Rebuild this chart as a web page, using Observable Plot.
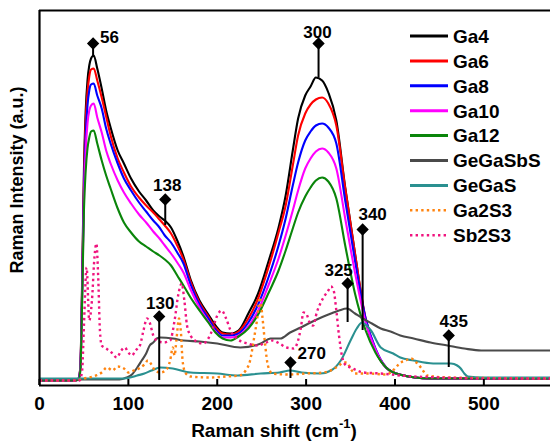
<!DOCTYPE html>
<html><head><meta charset="utf-8">
<script src="https://cdn.jsdelivr.net/npm/d3@7"></script>
<script src="https://cdn.jsdelivr.net/npm/@observablehq/plot@0.6"></script>
<style>
body{margin:0;background:#fff;}
#chart{position:relative;width:550px;height:441px;overflow:hidden;background:#fff}
#chart svg text{font-family:"Liberation Sans",Arial,sans-serif;}
</style>
</head><body><div id="chart"></div>
<script>
// ---- data (Raman shift in cm-1, intensity in arbitrary units) ----
const gaX = [0,40,44,46,48,50,52,54,56,58,61,65,70,75,80,88,95,103,112,120,128,135,141,148,155,162,170,180,190,198,206,215,224,235,246,258,269,277,285,291,299,305,311,318,325,334,344,355,367,378,390,405,440,480,575];
const ga4  = [5,5,7,20,105,215,275,305,320,327,330,317,297,275,258,235,222,207,194,185,175,169,165,158,145,129,106,85,71,60,53,52,55,72,92,125,158,190,235,267,290,299,308,305,293,265,198,132,65,35,18,11,7,7,7];
const ga6  = [5,5,7,19,100,205,265,293,309,316,317,305,288,269,250,227,213,199,188,180,173,166,160,152,140,126,104,83,69,58,52,51,54,67,87,119,153,180,220,250,272,281,286,288,282,260,197,132,67,36,18,11,7,7,7];
const ga8  = [5,5,7,18,95,195,250,280,295,301,302,290,277,257,242,222,207,195,183,174,165,158,150,143,133,122,101,81,67,56,50,50,52,63,81,109,140,167,200,223,245,254,260,262,258,242,185,125,67,37,18,11,7,7,7];
const ga10 = [5,5,6,17,90,185,235,262,275,280,282,268,253,235,222,205,193,182,171,163,154,147,140,132,123,113,96,78,64,54,48,48,50,59,75,101,127,150,175,195,217,227,234,237,233,217,167,113,63,36,18,11,7,7,7];
const ga12 = [5,5,6,15,85,175,215,237,248,254,255,242,225,210,197,177,163,153,144,139,134,130,126,120,110,100,88,75,63,53,47,45,49,57,71,93,115,135,157,173,189,198,205,208,204,187,140,92,55,33,18,11,7,7,7];

const gsX = [0,90,98,104,110,115,120,124,128,132,136,150,162,180,200,226,249,260,271,282,294,305,317,328,337,346,355,364,374,384,395,406,421,440,459,478,497,530,575];
const geGaSbS = [6,6,8,11,18,25,32,40,43,47,48,47,45,44,42,38,42,47,47,53,58,63,68,72,75,77,72,67,62,57,54,50,47,43,40,37,35,35,35];

const gX = [0,95,102,110,118,126,136,150,170,200,223,249,270,282,295,316,328,339,350,357,363,368,373,384,398,406,421,443,463,470,474,478,482,500,575];
const geGaS = [7,7,8,10,12,15,18,17,13,12,10,12,13,15,13,12,15,25,45,57,63,60,55,38,32,28,25,22,22,20,17,12,9,8,8];

const oX = [0,40,50,60,70,76,82,88,95,100,106,112,118,122,126,130,136,142,147,150,152,154,157,159,161,164,170,190,210,225,232,237,241,245,248,251,254,257,262,280,300,320,330,337,342,346,350,355,370,390,400,405,412,418,424,430,436,460,575];
const ga2S3 = [5,5,7,9,13,18,15,19,17,13,15,17,21,25,21,15,13,15,25,38,30,45,67,55,25,13,9,8,9,10,15,25,45,67,88,67,40,20,12,11,12,13,16,20,23,23,17,12,12,11,17,22,25,27,23,17,10,8,7];

const pX = [0,45,48,50,53,56,59,62,64,66,68,70,75,81,87,92,96,100,104,108,113,117,121,124,128,132,140,147,152,156,160,163,166,170,175,184,190,195,200,205,210,215,222,234,245,255,262,270,278,286,291,294,297,300,304,308,312,316,321,325,328,331,334,337,341,345,350,365,384,406,450,500,575];
const sb2S3 = [5,5,15,60,118,65,85,130,142,110,55,40,37,33,28,35,38,33,30,35,40,55,67,63,50,45,43,45,65,90,102,85,60,50,45,42,47,57,70,75,67,55,47,42,40,43,45,42,38,37,45,57,73,72,63,60,73,82,90,95,99,95,75,50,27,20,18,13,12,10,8,7,7];

const seriesNames  = ["Ga4","Ga6","Ga8","Ga10","Ga12","GeGaSbS","GeGaS","Ga2S3","Sb2S3"];

// peak annotations
const peakLabels = ["56","138","300","130","270","325","340","435"];
const peakX      = [60.3,141.5,314,134.7,282.4,346.7,363.6,460.5];
const peakTop    = [342,186,342,69,23,102,156,50];
const peakBase   = [328,160,308,5,7,63,55,18];

const xTicks = [0,100,200,300,400,500];

// ---- styles ----
const seriesStyle = [
  {color:"#000000", dash:null},
  {color:"#ff0000", dash:null},
  {color:"#0000ff", dash:null},
  {color:"#ff00ff", dash:null},
  {color:"#0a850a", dash:null},
  {color:"#4a4a4a", dash:null},
  {color:"#2a9090", dash:null},
  {color:"#ff8410", dash:"2.4,3.2"},
  {color:"#f0147f", dash:"2.4,3.2"}
];
const labelStyle = [
  {dx:7, dy:-6, anchor:"start"},
  {dx:2, dy:-14, anchor:"middle"},
  {dx:-1, dy:-11, anchor:"middle"},
  {dx:1, dy:-13, anchor:"middle"},
  {dx:7, dy:-9, anchor:"start"},
  {dx:-9, dy:-13, anchor:"middle"},
  {dx:10, dy:-15, anchor:"middle"},
  {dx:5, dy:-14, anchor:"middle"}
];

const seriesData = [
  [gaX, ga4],[gaX, ga6],[gaX, ga8],[gaX, ga10],[gaX, ga12],
  [gsX, geGaSbS],[gX, geGaS],[oX, ga2S3],[pX, sb2S3]
].map(([xs, ys], k) => xs.map((x, i) => ({series: seriesNames[k], x, y: ys[i]})));

const lineMarks = seriesData.map((d, k) => Plot.line(d, {
  x: "x", y: "y", curve: "monotone-x",
  stroke: seriesStyle[k].color,
  strokeWidth: seriesStyle[k].dash ? 2.4 : 2.1,
  strokeDasharray: seriesStyle[k].dash || undefined,
  strokeLinecap: "butt"
}));

const peaks = peakLabels.map((t, i) => ({label: t, x: peakX[i], top: peakTop[i], base: peakBase[i]}));

const labelMarks = peaks.map((p, i) => Plot.text([p], {
  x: "x", y: "top", text: "label",
  dx: labelStyle[i].dx, dy: labelStyle[i].dy, textAnchor: labelStyle[i].anchor,
  fontSize: 17, fontWeight: "bold", fill: "#000"
}));

const plot = Plot.plot({
  width: 550, height: 441,
  marginLeft: 39, marginRight: 0, marginTop: 10, marginBottom: 56,
  x: {domain: [0, 575]},
  y: {domain: [0, 375], axis: null},
  style: {fontFamily: "Liberation Sans, Arial, sans-serif", background: "#fff"},
  marks: [
    ...lineMarks,
    Plot.ruleX(peaks, {x: "x", y1: "base", y2: "top", stroke: "#000", strokeWidth: 2}),
    Plot.dot(peaks, {x: "x", y: "top", symbol: "diamond2", r: 4.6, fill: "#000", stroke: "#000"}),
    ...labelMarks,
    Plot.ruleX(xTicks, {y1: 0, y2: 6, stroke: "#000", strokeWidth: 2}),
    Plot.ruleY([0, 375], {stroke: "#000", strokeWidth: 2.2}),
    Plot.ruleX([0], {stroke: "#000", strokeWidth: 2.2}),
    Plot.axisX({ticks: xTicks, tickSize: 0, tickPadding: 11, fontSize: 19, fontWeight: "bold", label: null})
  ]
});

document.getElementById("chart").appendChild(plot);
const svg = d3.select(plot);
svg.selectAll('g[aria-label="x-axis tick label"] text').attr("font-weight", "bold").attr("fill", "#000");

// axis titles
svg.append("text")
  .attr("transform", "translate(17,180) rotate(-90)")
  .attr("text-anchor", "middle").attr("dy", "0.36em")
  .attr("font-size", 18).attr("font-weight", "bold").attr("fill", "#000")
  .text("Raman Intensity (a.u.)");

const xt = svg.append("text")
  .attr("x", 274).attr("y", 437).attr("text-anchor", "middle")
  .attr("font-size", 19).attr("font-weight", "bold").attr("fill", "#000");
xt.append("tspan").text("Raman shift (cm");
xt.append("tspan").attr("font-size", 13).attr("dy", -9).text("-1");
xt.append("tspan").attr("dy", 9).text(")");

// legend
const legend = svg.append("g").attr("text-anchor", "start");
seriesNames.forEach((name, k) => {
  const yy = 36 + k * 24.9;
  legend.append("line")
    .attr("x1", 410).attr("x2", 448).attr("y1", yy).attr("y2", yy)
    .attr("stroke", seriesStyle[k].color)
    .attr("stroke-width", seriesStyle[k].dash ? 2.6 : 3)
    .attr("stroke-dasharray", seriesStyle[k].dash || null);
  legend.append("text")
    .attr("x", 453).attr("y", yy + 6.8)
    .attr("text-anchor", "start")
    .attr("font-size", 19).attr("font-weight", "bold").attr("fill", "#000")
    .text(name);
});
</script>
</body></html>
